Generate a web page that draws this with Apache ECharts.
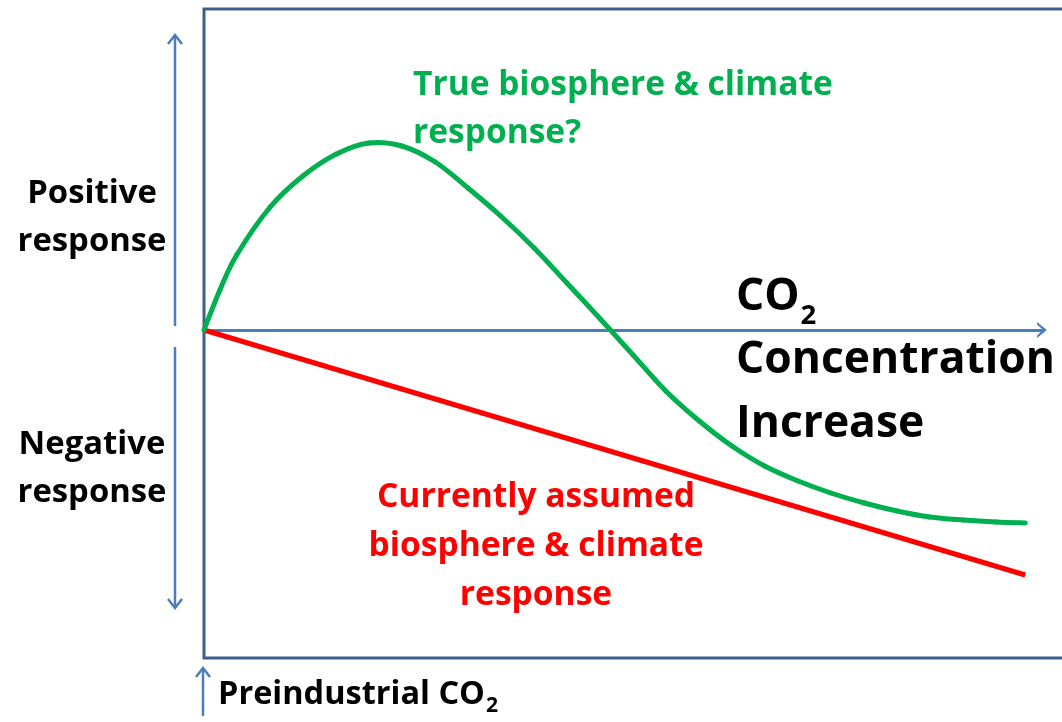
<!DOCTYPE html>
<html>
<head>
<meta charset="utf-8">
<script src="https://cdn.jsdelivr.net/npm/echarts@6/dist/echarts.min.js"></script>
<style>
  html, body { margin: 0; padding: 0; background: #ffffff; }
  #chart { width: 1062px; height: 722px; }
</style>
</head>
<body>
<div id="chart"></div>
<script>
// CO2 concentration increase above preindustrial (relative units, 0..100)
const co2Increase = [0, 1.9, 3.9, 7.9, 11.8, 15.8, 19.7, 23.6, 27.6, 31.5, 35.4, 39.4, 43.3, 47.3,
  51.2, 55.1, 59.1, 63.0, 66.9, 70.9, 74.8, 78.8, 82.7, 86.6, 90.6, 94.5, 98.0];
// Hypothesised "true" biosphere & climate response (relative units)
const trueResponse = [0, 4.0, 7.5, 12.3, 15.4, 17.6, 18.7, 18.4, 16.8, 14.2, 11.4, 8.2, 4.7, 1.1,
  -2.5, -6.1, -9.1, -11.6, -13.6, -15.1, -16.3, -17.3, -18.1, -18.7, -19.0, -19.2, -19.3];
// Currently assumed response: a straight decline
const assumedCo2 = [0, 98.0];
const assumedResponse = [0, -24.5];

const trueLabel = ['True biosphere & climate', 'response?'];
const assumedLabel = ['Currently assumed', 'biosphere & climate', 'response'];
const positiveLabel = ['Positive', 'response'];
const negativeLabel = ['Negative', 'response'];
const axisTitle = ['CO', '2', 'Concentration', 'Increase'];
const baseLabel = ['Preindustrial CO', '2'];

const FAMILY = '"Open Sans", "Noto Sans", sans-serif';
const GRID = { left: 204, top: 9, right: 20, bottom: 64 };
const FRAME = '#3d5f8c';
const ARROW = '#4a7ebb';
const GREEN = '#00b050';
const RED = '#ff0000';

const chart = echarts.init(document.getElementById('chart'), null, { renderer: 'canvas' });

const zip = (xs, ys) => xs.map((x, i) => [x, ys[i]]);

// Smooth curve: each segment is a cubic Bezier whose control points follow
// the neighbouring data points (Catmull-Rom), placed through the axes' scales.
function renderSmoothSegment(params, api) {
  const i = params.dataIndex;
  const n = co2Increase.length;
  if (i >= n - 1) return null;
  const pt = k => {
    const j = Math.max(0, Math.min(n - 1, k));
    return api.coord([co2Increase[j], trueResponse[j]]);
  };
  const p0 = pt(i - 1), p1 = pt(i), p2 = pt(i + 1), p3 = pt(i + 2);
  return {
    type: 'bezierCurve',
    shape: {
      x1: p1[0], y1: p1[1], x2: p2[0], y2: p2[1],
      cpx1: p1[0] + (p2[0] - p0[0]) / 6, cpy1: p1[1] + (p2[1] - p0[1]) / 6,
      cpx2: p2[0] - (p3[0] - p1[0]) / 6, cpy2: p2[1] - (p3[1] - p1[1]) / 6
    },
    style: { stroke: GREEN, lineWidth: 5, fill: null, lineCap: 'round' }
  };
}

chart.setOption({
  animation: false,
  backgroundColor: '#ffffff',
  grid: Object.assign({ show: false }, GRID),
  xAxis: {
    type: 'value', min: 0, max: 100,
    axisLine: {
      show: true, onZero: true,
      symbol: ['none', 'path://M0,12 L10,0 L20,12 L16.5,12 L10,4.5 L3.5,12 Z'],
      symbolSize: [16, 12],
      lineStyle: { color: ARROW, width: 3 }
    },
    axisTick: { show: false }, axisLabel: { show: false }, splitLine: { show: false }
  },
  yAxis: {
    type: 'value', min: -32.8, max: 32.1,
    axisLine: { show: false }, axisTick: { show: false },
    axisLabel: { show: false }, splitLine: { show: false }
  },
  series: [
    {
      name: 'True response', type: 'custom', data: zip(co2Increase, trueResponse),
      encode: { x: 0, y: 1 }, renderItem: renderSmoothSegment, z: 4
    },
    {
      name: 'Assumed response', type: 'line', data: zip(assumedCo2, assumedResponse),
      showSymbol: false, symbol: 'none', z: 3,
      lineStyle: { color: RED, width: 5 }
    }
  ]
});

// Text measuring: font size that makes a line span a given width
const measureCtx = document.createElement('canvas').getContext('2d');
function textWidth(str, size) {
  measureCtx.font = 'bold ' + size + 'px ' + FAMILY;
  return measureCtx.measureText(str).width;
}
function fitSize(str, width) { return 100 * width / textWidth(str, 100); }

function text(str, x, y, size, color, align) {
  return {
    type: 'text', x: x, y: y, z: 10,
    style: {
      text: str, fill: color, align: align || 'left', verticalAlign: 'middle',
      font: 'bold ' + size.toFixed(2) + 'px ' + FAMILY
    }
  };
}
function vArrow(x, yFrom, yTip, color, width) {
  const dir = yTip < yFrom ? 1 : -1;
  return [
    { type: 'polyline', z: 5, shape: { points: [[x, yFrom], [x, yTip + dir]] },
      style: { stroke: color, lineWidth: width, fill: null } },
    { type: 'polyline', z: 5, shape: { points: [[x - 7, yTip + dir * 9], [x, yTip], [x + 7, yTip + dir * 9]] },
      style: { stroke: color, lineWidth: width, fill: null, lineJoin: 'miter' } }
  ];
}

const origin = chart.convertToPixel({ gridIndex: 0 }, [0, 0]);
const W = chart.getWidth(), H = chart.getHeight();
const gTop = GRID.top, gBottom = H - GRID.bottom, gLeft = GRID.left;
const sideX = gLeft - 29;

const graphics = [];
// plot frame (open on the right)
graphics.push({
  type: 'polyline', z: 2,
  shape: { points: [[W + 5, gTop], [gLeft, gTop], [gLeft, gBottom], [W + 5, gBottom]] },
  style: { stroke: FRAME, lineWidth: 3, fill: null, lineJoin: 'miter' }
});
// response direction arrows
graphics.push(...vArrow(sideX, origin[1] - 4, gTop + 26, ARROW, 2.5));
graphics.push(...vArrow(sideX, origin[1] + 17, gBottom - 50, ARROW, 2.5));
// preindustrial marker arrow
graphics.push(...vArrow(gLeft - 1, H - 6, gBottom + 10, ARROW, 2.5));

// side labels
const sideSize = fitSize(positiveLabel[1], 149);
graphics.push(text(positiveLabel[0], 92, 194, sideSize, '#000', 'center'));
graphics.push(text(positiveLabel[1], 92, 242, sideSize, '#000', 'center'));
graphics.push(text(negativeLabel[0], 92, 445, sideSize, '#000', 'center'));
graphics.push(text(negativeLabel[1], 92, 493, sideSize, '#000', 'center'));

// curve labels
const greenSize = fitSize(trueLabel[0], 420);
graphics.push(text(trueLabel[0], 413, 85, greenSize, GREEN));
graphics.push(text(trueLabel[1], 413, 133, greenSize, GREEN));
const redSize = fitSize(assumedLabel[1], 335);
graphics.push(text(assumedLabel[0], 536, 497, redSize, RED, 'center'));
graphics.push(text(assumedLabel[1], 536, 546, redSize, RED, 'center'));
graphics.push(text(assumedLabel[2], 536, 595, redSize, RED, 'center'));

// x-axis title with subscript
const bigSize = fitSize(axisTitle[2], 319);
const coW = textWidth(axisTitle[0], bigSize);
graphics.push(text(axisTitle[0], 736, 297, bigSize, '#000'));
graphics.push(text(axisTitle[1], 736 + coW + 1, 316, bigSize * 0.62, '#000'));
graphics.push(text(axisTitle[2], 736, 360, bigSize, '#000'));
graphics.push(text(axisTitle[3], 736, 424, bigSize, '#000'));

// baseline label
const baseSize = fitSize(baseLabel[0], 267);
const piW = textWidth(baseLabel[0], baseSize);
graphics.push(text(baseLabel[0], 218, 695, baseSize, '#000'));
graphics.push(text(baseLabel[1], 218 + piW + 1, 706, baseSize * 0.65, '#000'));

chart.setOption({ graphic: graphics });
</script>
</body>
</html>
